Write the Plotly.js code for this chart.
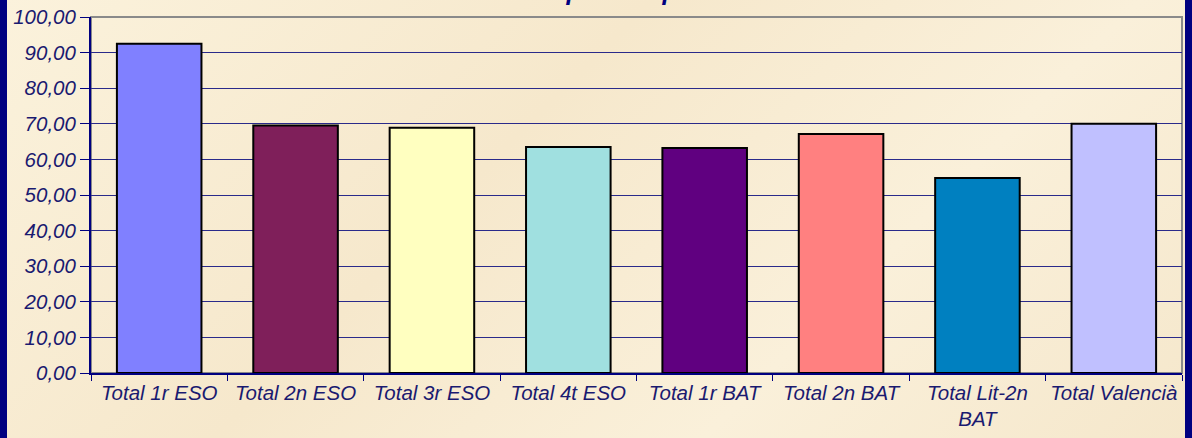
<!DOCTYPE html>
<html>
<head>
<meta charset="utf-8">
<script src="https://cdn.plot.ly/plotly-3.0.1.min.js"></script>
<style>
  html, body { margin: 0; padding: 0; background: #f9eed6; }
  #wrap { position: relative; width: 1192px; height: 438px; overflow: hidden;
          background: linear-gradient(135deg, #fbf2dc 0%, #f6e8cc 40%, #faf0da 70%, #f5e7cb 100%); }
  #chart { position: absolute; left: 0; top: 0; width: 1192px; height: 438px; }
  #bl { position: absolute; left: 0; top: 0; width: 7px; height: 438px; background: #000080; }
  #br { position: absolute; right: 0; top: 0; width: 7px; height: 438px; background: #000080; }
</style>
</head>
<body>
<div id="wrap">
  <div id="chart"></div>
  <div id="bl"></div>
  <div id="br"></div>
</div>
<script>
const categories = ["Total 1r ESO", "Total 2n ESO", "Total 3r ESO", "Total 4t ESO",
                    "Total 1r BAT", "Total 2n BAT", "Total Lit-2n<br>BAT", "Total Valencià"];
const values = [92.5, 69.5, 68.9, 63.5, 63.2, 67.1, 54.8, 70.0];
const barColors = ["#8080FF", "#7F1F5A", "#FFFFC0", "#A0E0E0", "#600080", "#FF8080", "#0080C0", "#C0C0FF"];
const titleText = "Comparació per cursos";

const trace = {
  type: "bar",
  x: categories,
  y: values,
  marker: { color: barColors, line: { color: "#000000", width: 2 } },
  hoverinfo: "skip"
};

const tickFont = { family: "Liberation Sans, Arial, sans-serif", size: 20.5, color: "#1a1a70", style: "italic" };

const layout = {
  width: 1192, height: 438,
  margin: { l: 91, r: 10, t: 17, b: 65 },
  paper_bgcolor: "rgba(0,0,0,0)",
  plot_bgcolor: "rgba(0,0,0,0)",
  separators: ",.",
  bargap: 0.38,
  showlegend: false,
  font: { family: "Liberation Sans, Arial, sans-serif", color: "#1a1a70" },
  xaxis: {
    type: "category",
    tickangle: 0,
    showline: true, linecolor: "#000080", linewidth: 2,
    ticks: "outside", tickson: "boundaries", ticklen: 6, tickcolor: "#000080", tickwidth: 1,
    showgrid: false,
    tickfont: tickFont
  },
  yaxis: {
    range: [0, 100], dtick: 10, tick0: 0, tickformat: ".2f",
    showline: true, linecolor: "#000080", linewidth: 2,
    ticks: "outside", ticklen: 9, tickcolor: "#000080", tickwidth: 1,
    showgrid: true, gridcolor: "#2a2a8a", gridwidth: 1,
    zeroline: false,
    tickfont: tickFont
  },
  shapes: [{
    type: "rect", xref: "paper", yref: "paper", x0: 0, x1: 1, y0: 0, y1: 1,
    line: { color: "#8a8a8a", width: 2 }, layer: "below"
  }],
  annotations: [{
    text: "<b><i>" + titleText + "</i></b>",
    xref: "paper", yref: "paper", x: 0.513, y: 1.027,
    xanchor: "center", yanchor: "bottom", showarrow: false,
    font: { family: "Liberation Sans, Arial, sans-serif", size: 25, color: "#000080" }
  }]
};

Plotly.newPlot("chart", [trace], layout, { staticPlot: true, displayModeBar: false });
</script>
</body>
</html>
